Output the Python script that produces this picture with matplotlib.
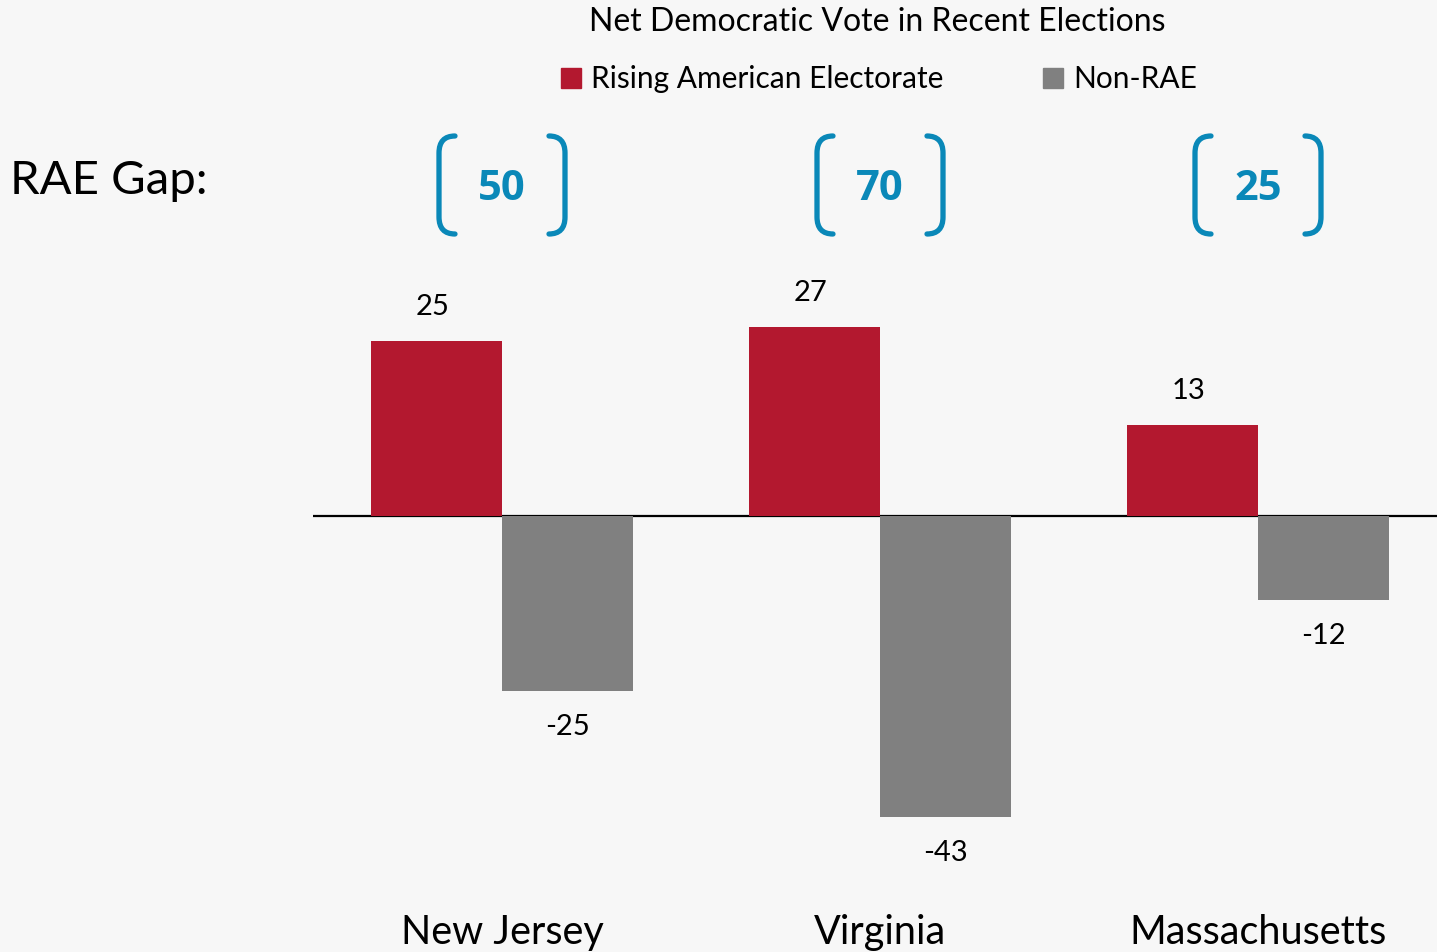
import numpy as np
import matplotlib
matplotlib.use("Agg")
import matplotlib.pyplot as plt
from matplotlib.path import Path
from matplotlib.patches import PathPatch
import matplotlib.transforms as mtransforms

states = ["New Jersey", "Virginia", "Massachusetts"]
rae = [25, 27, 13]
non_rae = [-25, -43, -12]
gaps = [50, 70, 25]

RED = "#b3182f"
GRAY = "#808080"
BLUE = "#0a88b8"
BG = "#f7f7f7"

plt.rcParams["font.family"] = ["Lato", "DejaVu Sans"]

W, H = 1437, 953
fig = plt.figure(figsize=(W / 100, H / 100), dpi=100, facecolor=BG)
ax = fig.add_axes([313 / W, 0, 1 - 313 / W, 1])
ax.set_facecolor(BG)
ax.patch.set_alpha(0)

x = np.arange(len(states))
w = 0.3466
b1 = ax.bar(x - w / 2, rae, w, color=RED, zorder=2)
b2 = ax.bar(x + w / 2, non_rae, w, color=GRAY, zorder=2)
ax.axhline(0, color="black", lw=1.6, zorder=1)

ax.set_xlim(-0.5, -0.5 + (W - 313) / 378)
ax.set_ylim(-(H - 517) / 7, 517 / 7)
ax.axis("off")

for xi, v in zip(x - w / 2, rae):
    ax.annotate(str(v), (xi, v), xytext=(-3, 25), textcoords="offset points",
                ha="center", va="center", fontsize=21)
for xi, v in zip(x + w / 2, non_rae):
    ax.annotate(str(v), (xi, v), xytext=(0, -25), textcoords="offset points",
                ha="center", va="center", fontsize=21)

# category labels along the bottom
base = mtransforms.blended_transform_factory(ax.transData, fig.transFigure)
for xi, s in zip(x, states):
    ax.text(xi, 1 - 933 / H, s, transform=base, ha="center", va="center",
            fontsize=28.5, clip_on=False)

# title + legend
fig.text(877 / W, 1 - 22 / H, "Net Democratic Vote in Recent Elections",
         ha="center", va="center", fontsize=23)
for px, col, lab in [(561, RED, "Rising American Electorate"), (1043, GRAY, "Non-RAE")]:
    fig.patches.append(plt.Rectangle((px / W, 1 - 89 / H), 20 / W, 20 / H,
                                     transform=fig.transFigure, color=col))
    fig.text((px + 30) / W, 1 - 79 / H, lab, ha="left", va="center", fontsize=21.5)

fig.text(10 / W, 1 - 181 / H, "RAE Gap:", ha="left", va="center", fontsize=34)

# brackets with the gap numbers
yc = 1 - 186 / H
for xi, g in zip(x, gaps):
    ax.text(xi, yc - 4 / H, str(g), transform=base, ha="center", va="center",
            fontsize=30, fontweight="bold", color=BLUE, family="Open Sans")
    off = fig.dpi_scale_trans + mtransforms.ScaledTranslation(xi, yc, base)
    for sgn in (-1, 1):
        verts = [(sgn * 47, 49), (sgn * 63, 49), (sgn * 63, 32),
                 (sgn * 63, -32), (sgn * 63, -49), (sgn * 47, -49)]
        verts = [(a / 100, b / 100) for a, b in verts]
        codes = [Path.MOVETO, Path.CURVE3, Path.CURVE3,
                 Path.LINETO, Path.CURVE3, Path.CURVE3]
        ax.add_patch(PathPatch(Path(verts, codes), fill=False, ec=BLUE,
                               lw=3.8, capstyle="round", transform=off,
                               clip_on=False))

fig.savefig("out.png", dpi=100, facecolor=BG)
